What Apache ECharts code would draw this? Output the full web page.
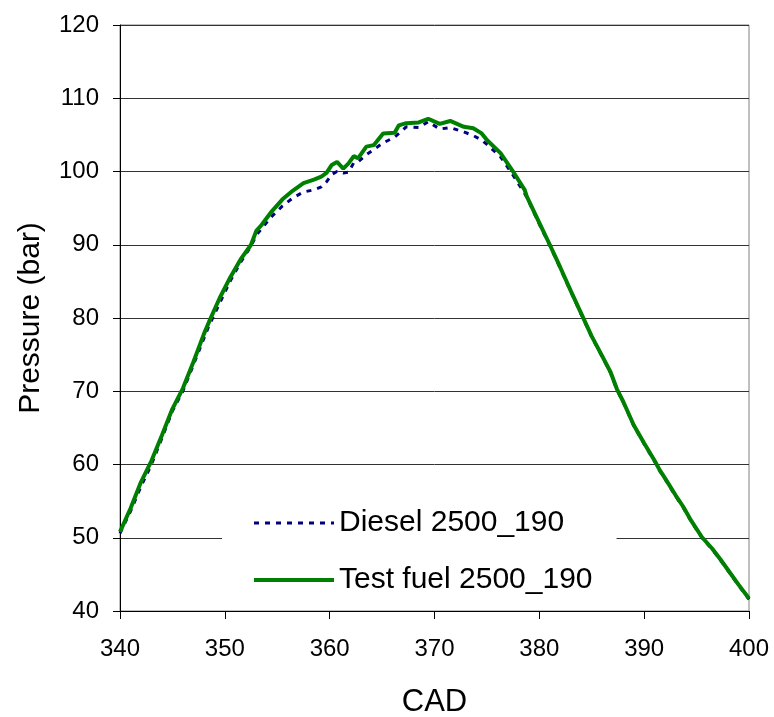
<!DOCTYPE html>
<html>
<head>
<meta charset="utf-8">
<script src="https://cdn.jsdelivr.net/npm/echarts@6/dist/echarts.min.js"></script>
<style>html,body{margin:0;padding:0;background:#fff}#c{width:774px;height:717px}</style>
</head>
<body>
<div id="c"></div>
<script>
const cad = [340, 341, 342, 343, 344, 345, 346, 347, 348, 348.5, 349.5, 350.5, 351.5, 352.5, 353, 353.5, 354.5, 355.5, 356.5, 357.5, 358.5, 359.2, 359.7, 360.2, 360.7, 361.3, 361.8, 362.3, 362.7, 363.5, 364.2, 365.1, 366.2, 366.6, 367.3, 368.5, 369.4, 370.5, 371.5, 372.8, 373.7, 374.5, 375, 376.3, 377.4, 378.6, 378.8, 380, 381, 382, 383, 384, 385, 386, 386.8, 387.4, 388, 389, 390, 391, 391.5, 392, 393, 393.7, 394.5, 395.5, 396.5, 397.3, 398, 399, 400];
const testFuel = [50.8, 54.0, 57.6, 60.5, 64.0, 67.6, 70.4, 74.0, 77.8, 79.5, 82.7, 85.5, 88.0, 90.0, 91.9, 92.7, 94.6, 96.2, 97.4, 98.4, 98.9, 99.3, 99.8, 100.9, 101.3, 100.4, 101.1, 102.1, 101.8, 103.4, 103.6, 105.2, 105.3, 106.3, 106.6, 106.7, 107.2, 106.5, 106.9, 106.1, 105.9, 105.2, 104.3, 102.5, 100.2, 97.5, 96.6, 93.0, 90.0, 86.9, 83.7, 80.6, 77.5, 74.8, 72.6, 70.3, 68.6, 65.4, 62.9, 60.5, 59.2, 58.1, 55.8, 54.3, 52.3, 50.1, 48.5, 47.0, 45.6, 43.6, 41.7];
const diesel = [50.6, 53.6, 57.0, 60.0, 63.6, 67.3, 70.0, 73.6, 77.2, 79.0, 82.0, 85.0, 87.6, 89.8, 91.3, 92.2, 93.9, 95.3, 96.4, 97.2, 97.5, 97.9, 98.6, 99.6, 100.0, 99.8, 99.9, 101.2, 101.3, 102.3, 103.0, 103.9, 104.7, 105.2, 106.1, 106.0, 106.8, 105.8, 106.0, 105.4, 104.9, 104.3, 103.7, 102.0, 99.7, 97.0, 96.5, 92.8, 89.9, 86.8, 83.6, 80.5, 77.4, 74.7, 72.5, 70.2, 68.5, 65.3, 62.8, 60.4, 59.1, 58.0, 55.7, 54.2, 52.2, 50.0, 48.4, 46.9, 45.5, 43.5, 41.6];
const seriesNames = ['Diesel 2500_190', 'Test fuel 2500_190'];

const font = 'Arial, "Liberation Sans", sans-serif';
const chart = echarts.init(document.getElementById('c'), null, {renderer: 'canvas'});
chart.setOption({
  animation: false,
  backgroundColor: '#fff',
  grid: {left: 120, right: 25, top: 25, bottom: 106, outerBoundsMode: 'none', containLabel: false,
    show: true, borderColor: '#808080', borderWidth: 1, backgroundColor: 'transparent'},
  legend: {
    orient: 'vertical', left: 222, top: 498,
    padding: [10, 24, 10, 30],
    backgroundColor: '#fff',
    itemWidth: 80, itemHeight: 14, itemGap: 27,
    itemStyle: {opacity: 0},
    textStyle: {fontFamily: font, fontSize: 30, color: '#000', lineHeight: 30},
    data: [
      {name: seriesNames[0], lineStyle: {width: 3, color: '#000080', type: [5, 6]}},
      {name: seriesNames[1], lineStyle: {width: 4, color: '#008000'}}
    ]
  },
  xAxis: {
    type: 'value', min: 340, max: 400, interval: 10,
    name: 'CAD', nameLocation: 'middle', nameGap: 76,
    nameTextStyle: {fontFamily: font, fontSize: 31, color: '#000'},
    axisLine: {show: true, lineStyle: {color: '#000', width: 1}},
    axisTick: {show: true, inside: false, length: 8, lineStyle: {color: '#000'}},
    axisLabel: {fontFamily: font, fontSize: 24, color: '#000', margin: 26},
    splitLine: {show: false}
  },
  yAxis: {
    type: 'value', min: 40, max: 120, interval: 10,
    name: 'Pressure (bar)', nameLocation: 'middle', nameGap: 74,
    nameTextStyle: {fontFamily: font, fontSize: 30, color: '#000'},
    axisLine: {show: true, lineStyle: {color: '#000', width: 1}},
    axisTick: {show: true, inside: false, length: 7, lineStyle: {color: '#000'}},
    axisLabel: {fontFamily: font, fontSize: 24, color: '#000', margin: 21},
    splitLine: {show: true, lineStyle: {color: '#333', width: 1}}
  },
  series: [
    {
      name: seriesNames[0], type: 'line', symbol: 'none', z: 3,
      data: cad.map((x, i) => [x, diesel[i]]),
      lineStyle: {color: '#000080', width: 3, type: [5, 6]},
      itemStyle: {color: '#000080'}
    },
    {
      name: seriesNames[1], type: 'line', symbol: 'none', z: 4,
      data: cad.map((x, i) => [x, testFuel[i]]),
      lineStyle: {color: '#008000', width: 4},
      itemStyle: {color: '#008000'}
    }
  ]
});
</script>
</body>
</html>
